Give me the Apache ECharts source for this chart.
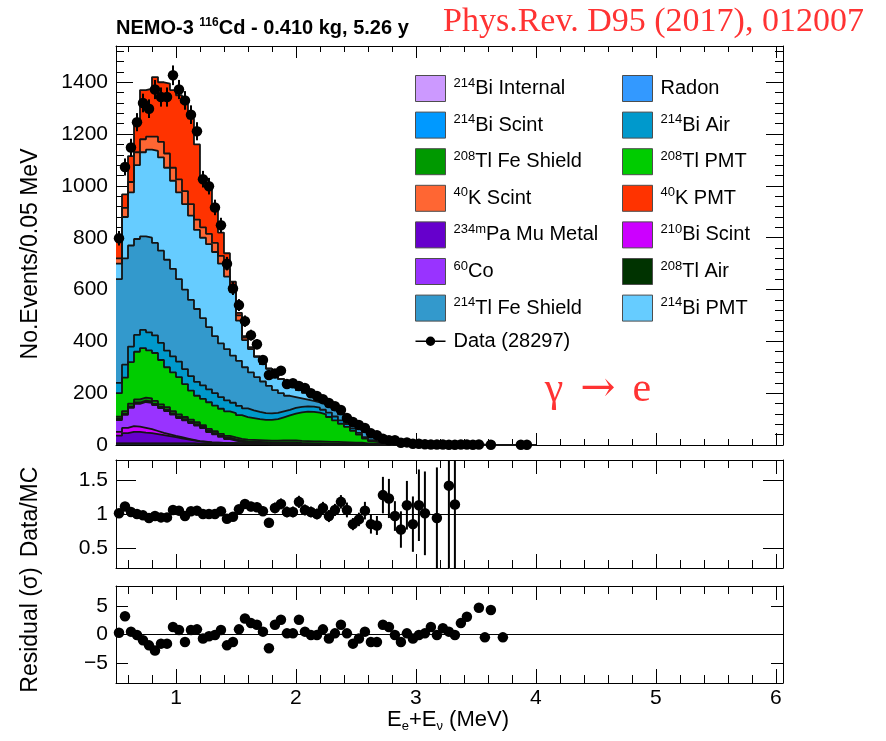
<!DOCTYPE html>
<html><head><meta charset="utf-8">
<script src="https://cdn.jsdelivr.net/npm/echarts@6/dist/echarts.min.js"></script>
<style>html,body{margin:0;padding:0;background:#fff}#c{width:886px;height:741px}</style>
</head><body><div id="c"></div>
<script>
// ---------------- DATA ----------------
// lower bin edges (MeV), bin width 0.05
const binLow = [0.50,0.55,0.60,0.65,0.70,0.75,0.80,0.85,0.90,0.95,
 1.00,1.05,1.10,1.15,1.20,1.25,1.30,1.35,1.40,1.45,
 1.50,1.55,1.60,1.65,1.70,1.75,1.80,1.85,1.90,1.95,
 2.00,2.05,2.10,2.15,2.20,2.25,2.30,2.35,2.40,2.45,
 2.50,2.55,2.60,2.65,2.70,2.75,2.80,2.85,2.90,2.95,
 3.00,3.05,3.10,3.15,3.20,3.25,3.30,3.35,3.40,3.45,
 3.50,3.55,3.60,3.65,3.70,3.75,3.80,3.85,3.90,3.95];
const lastEdge = 4.00;

const dataCounts = [798,1073,1148,1246,1320,1298,1372,1343,1343,1427,
 1372,1330,1275,1211,1026,999,917,848,700,604,
 540,478,424,389,328,270,276,287,235,238,
 228,220,200,189,177,162,150,135,104,89,
 77,66,45,38,24,18,18,9,10,5,
 5,3,2,2,2,1,1,2,2,1,
 2,0,1,0,0,0,0,1,1,0];
const dataErr = [28,33,34,35,36,36,37,37,37,38,
 37,36,36,35,32,32,30,29,26,25,
 23,22,21,20,18,16,17,17,15,15,
 15,15,14,14,13,13,12,12,10,9,
 9,8,7,6,5,4,4,3,3,2,
 2,2,1,1,1,1,1,1,1,1,
 1,0,1,0,0,0,0,1,1,0];

// MC components (events / bin), bins beyond the list are empty
const radon      = [4,4,4,4,4,4,4,4,4,4, 4,4,4,3,3,3,3,3,3,3, 3,3,3,3,3,2,2,2,2,2, 2,2,2,2,1,1,1,1,1,1, 1,1,1,1,1,1];
const bi214Int   = [1,1,1,1,1,1,1,1,1,1, 1,1,1,1,1,1,1,1,1,1, 1,1,1,1,1,1,1,1,1,1, 1,1,1,1,1,1,1,1,1,1, 1];
const bi214Scint = [1,1,1,1,1,1,1,1,1,1, 1,1,1,1,1,1,1,1,1,1, 1,1,1,1,1,1,1,1,1,1, 1];
const pa234      = [30,40,45,45,42,40,36,32,28,24, 20,16,12,9,7,5,4,3,2,2, 1,1,1,1,1,1,1,1,1,1];
const bi210      = [15,20,22,20,18,15,12,9,7,5, 4,3,2,1,1];
const co60       = [45,50,70,88,100,102,100,95,90,82, 74,70,65,60,52,40,32,23,16,10, 6,3,2,1];
const tl208Air   = [5,5,5,5,5,5,5,5,5,5, 5,5,5,5,5,5,5,5,5,5, 5,5,5,5,5,5,5,5,5,5, 4,4,3,3,3,2,2,2,1,1, 1];
const tl208Fe    = [8,10,12,12,12,12,11,10,10,9, 9,8,8,8,7,7,7,7,7,7, 7,7,7,7,7,7,7,8,8,8, 8,8,8,8,8,8,8,7,7,6, 6,5,5,4,4,3,3,2,2,2, 1,1,1,1,1];
const tl208PMT   = [91,129,160,184,191,185,185,171,154,149, 144,127,112,102,101,103,99,97,95,94, 91,87,84,81,79,80,83,89,96,103, 110,114,114,111,105,96,83,71,60,46, 31,19,9,5,3,2,1,1];
const bi214Air   = [40,50,60,65,70,70,68,66,64,62, 60,58,56,54,52,50,48,45,42,40, 36,33,30,28,26,25,24,23,22,22, 21,20,20,19,18,17,15,13,11,9, 7,5,4,3,3,2,2,1,1,1];
const tl214Fe    = [400,410,390,370,361,365,357,356,351,338, 318,307,294,281,260,240,220,207,198,182, 174,159,146,134,122,106,88,70,54,42, 33,26,22,21,22,23,25,23,19,18, 17,20,21,19,13,10,8,6,5,4, 3,2,1,1];
const bi214PMT   = [60,160,205,285,325,340,355,360,355,340, 335,330,325,305,310,320,325,308,280,245, 155,105,90,78,67,67,58,55,47,40, 32,27,23,20,17,17,15,12,12,13, 14,12,12,10,8,8,8,8,6,6, 6,5,4,4,3,3,2,2,2,1, 1];
const k40Scint   = [20,35,40,50,50,50,55,60,55,50, 50,50,45,40,40,40,35,30,30,25, 20,10,5,2];
const k40PMT     = [70,52,100,116,190,185,230,230,270,300, 325,360,330,290,190,175,130,90,60,15, 10,5,3];

// Data / MC ratio and its error
const ratio = [1.01,1.11,1.03,1.00,0.98,0.94,0.97,0.95,0.95,1.06,
 1.05,0.97,1.04,1.05,1.00,1.00,1.00,1.04,0.93,0.96,
 1.07,1.15,1.11,1.10,1.04,0.87,1.09,1.15,1.03,1.03,
 1.18,1.06,1.03,1.00,1.09,0.97,1.06,1.18,1.06,0.85,
 0.92,1.05,0.85,0.83,1.28,1.23,0.97,0.77,1.13,0.85,
 1.13,1.01,null,0.94,null,1.42,1.14];
const ratioErr = [0.05,0.05,0.05,0.04,0.04,0.04,0.04,0.04,0.04,0.04,
 0.04,0.04,0.04,0.04,0.05,0.05,0.05,0.05,0.05,0.05,
 0.06,0.07,0.07,0.07,0.07,0.07,0.08,0.08,0.08,0.08,
 0.09,0.08,0.08,0.08,0.09,0.09,0.09,0.10,0.11,0.09,
 0.10,0.13,0.14,0.14,0.27,0.29,0.22,0.27,0.36,0.41,
 0.53,0.62,null,0.75,null,1.6,1.6];
// residuals in sigma
const resid = [0.3,3.2,0.5,-0.1,-1.0,-1.9,-2.8,-1.6,-1.6,1.3,
 0.8,-1.3,0.8,0.9,-0.7,-0.3,-0.1,0.8,-1.9,-1.3,
 0.9,2.8,2.0,1.7,0.5,-2.4,1.7,2.6,0.2,0.2,
 2.6,0.5,-0.1,-0.1,0.9,-0.7,0.2,1.7,0.2,-1.6,
 -0.7,0.5,-1.3,-1.3,1.7,1.3,-0.1,-1.3,0.2,-0.7,
 -0.1,0.2,1.3,-0.1,1.1,0.5,-0.1,2.0,3.1,null,
 4.7,-0.5,4.3,null,-0.5];

// tick labels
const xMajor = [1,2,3,4,5,6];
const yMainMajor = [0,200,400,600,800,1000,1200,1400];
const yRatioMajor = [0.5,1,1.5];
const yResMajor = [-5,0,5];

// ---------------- BUILD ----------------
const FF = '"Liberation Sans", Arial, Helvetica, sans-serif';
const xMinor = [];
for (let v = 6; v <= 60; v += 2) if (v % 10 !== 0) xMinor.push(v / 10);
const yMainMinor = [];
for (let v = 40; v <= 1520; v += 40) if (v % 200 !== 0) yMainMinor.push(v);

const layers = [
  ['Radon', radon, '#3399ff'],
  ['214Bi Internal', bi214Int, '#cc99ff'],
  ['214Bi Scint', bi214Scint, '#0099ff'],
  ['234mPa Mu Metal', pa234, '#6600cc'],
  ['210Bi Scint', bi210, '#cc00ff'],
  ['60Co', co60, '#9933ff'],
  ['208Tl Air', tl208Air, '#003300'],
  ['208Tl Fe Shield', tl208Fe, '#009900'],
  ['208Tl PMT', tl208PMT, '#00cc00'],
  ['214Bi Air', bi214Air, '#0099cc'],
  ['214Tl Fe Shield', tl214Fe, '#3399cc'],
  ['214Bi PMT', bi214PMT, '#66ccff'],
  ['40K Scint', k40Scint, '#ff6633'],
  ['40K PMT', k40PMT, '#ff3300']
];
const fillOf = {};
layers.forEach(l => fillOf[l[0]] = l[2]);

const running = binLow.map(() => 0);
const cumul = [];
layers.forEach(l => {
  binLow.forEach((x, i) => { running[i] += (l[1][i] || 0); });
  cumul.push(running.slice());
});

const series = [];
for (let k = layers.length - 1; k >= 0; k--) {
  const c = cumul[k];
  const pts = binLow.map((x, i) => [x, c[i]]);
  pts.push([lastEdge, c[c.length - 1]]);
  series.push({
    type: 'line', name: layers[k][0], xAxisIndex: 0, yAxisIndex: 0,
    step: 'end', symbol: 'none', silent: true, data: pts,
    lineStyle: { color: '#141414', width: 1.8 },
    itemStyle: { color: layers[k][2] },
    areaStyle: { color: layers[k][2], opacity: 1 },
    z: 2
  });
}

function errRender(params, api) {
  const x = api.value(0), y = api.value(1), e = api.value(2);
  const p1 = api.coord([x, y - e]);
  const p2 = api.coord([x, y + e]);
  const cs = params.coordSys;
  const top = cs.y, bot = cs.y + cs.height;
  const c = v => Math.min(Math.max(v, top), bot);
  return { type: 'line', shape: { x1: p1[0], y1: c(p1[1]), x2: p2[0], y2: c(p2[1]) },
           style: { stroke: '#000', lineWidth: 2 } };
}

const mainPts = [], mainErr = [], ratioPts = [], ratioErrPts = [], resPts = [];
binLow.forEach((x, i) => {
  const xc = x + 0.025;
  if (dataCounts[i] > 0) { mainPts.push([xc, dataCounts[i]]); mainErr.push([xc, dataCounts[i], dataErr[i]]); }
  if (ratio[i] != null) { ratioPts.push([xc, ratio[i]]); ratioErrPts.push([xc, ratio[i], ratioErr[i]]); }
  if (resid[i] != null) resPts.push([xc, resid[i]]);
});

const dot = { color: '#000', opacity: 1 };
series.push({ type: 'custom', name: 'errMain', xAxisIndex: 0, yAxisIndex: 0, data: mainErr, renderItem: errRender, z: 4, silent: true });
series.push({ type: 'scatter', name: 'Data (28297)', xAxisIndex: 0, yAxisIndex: 0, data: mainPts, symbolSize: 10.5, itemStyle: dot, z: 5, silent: true });

series.push({ type: 'custom', name: 'errRatio', xAxisIndex: 4, yAxisIndex: 4, data: ratioErrPts, renderItem: errRender, z: 4, silent: true });
series.push({ type: 'scatter', name: 'ratio', xAxisIndex: 4, yAxisIndex: 4, data: ratioPts, symbolSize: 10.5, itemStyle: dot, z: 5, silent: true,
  markLine: { silent: true, symbol: 'none', label: { show: false }, lineStyle: { color: '#000', width: 1, type: 'solid', opacity: 1 }, data: [{ yAxis: 1 }] } });
series.push({ type: 'scatter', name: 'resid', xAxisIndex: 8, yAxisIndex: 8, data: resPts, symbolSize: 10.5, itemStyle: dot, z: 5, silent: true,
  markLine: { silent: true, symbol: 'none', label: { show: false }, lineStyle: { color: '#000', width: 1, type: 'solid', opacity: 1 }, data: [{ yAxis: 0 }] } });

// axes
const lbl = { color: '#000', fontSize: 21, fontFamily: FF };
function mkX(g, pos, ticks, len, line, labels) {
  return { type: 'value', gridIndex: g, position: pos, min: 0.5, max: 6.06,
    axisLine: { show: line, onZero: false, lineStyle: { color: '#000', width: 1 } },
    axisTick: { show: true, inside: true, length: len, customValues: ticks, lineStyle: { color: '#000', width: 1 } },
    axisLabel: Object.assign({ show: !!labels, customValues: ticks, margin: 5 }, lbl),
    splitLine: { show: false } };
}
function mkY(g, pos, min, max, ticks, len, line, labels, fmt) {
  return { type: 'value', gridIndex: g, position: pos, min: min, max: max,
    axisLine: { show: line, onZero: false, lineStyle: { color: '#000', width: 1 } },
    axisTick: { show: ticks.length > 0, inside: true, length: len, customValues: ticks, lineStyle: { color: '#000', width: 1 } },
    axisLabel: Object.assign({ show: !!labels, customValues: ticks, margin: 8, formatter: fmt }, lbl),
    splitLine: { show: false } };
}
const xAxes = [], yAxes = [];
const gcfg = [
  { ymin: 0, ymax: 1540, ymaj: yMainMajor, ymin2: yMainMinor, yl: 17, yml: 8, xl: 12, xml: 6, xlab: false, fmt: v => String(v) },
  { ymin: 0.2, ymax: 1.8, ymaj: yRatioMajor, ymin2: [], yl: 20, yml: 8, xl: 14, xml: 8, xlab: false, fmt: v => String(v) },
  { ymin: -8.5, ymax: 8.5, ymaj: yResMajor, ymin2: [], yl: 12, yml: 6, xl: 14, xml: 8, xlab: true, fmt: v => (v < 0 ? '\u2212' + Math.abs(v) : String(v)) }
];
gcfg.forEach((c, g) => {
  xAxes.push(mkX(g, 'bottom', xMajor, c.xl, true, c.xlab));
  xAxes.push(mkX(g, 'bottom', xMinor, c.xml, false, false));
  xAxes.push(mkX(g, 'top', xMajor, c.xl, true, false));
  xAxes.push(mkX(g, 'top', xMinor, c.xml, false, false));
  yAxes.push(mkY(g, 'left', c.ymin, c.ymax, c.ymaj, c.yl, true, true, c.fmt));
  yAxes.push(mkY(g, 'left', c.ymin, c.ymax, c.ymin2, c.yml, false, false));
  yAxes.push(mkY(g, 'right', c.ymin, c.ymax, c.ymaj, c.yl, true, false));
  yAxes.push(mkY(g, 'right', c.ymin, c.ymax, c.ymin2, c.yml, false, false));
});

// legend
const col1 = ['214Bi Internal', '214Bi Scint', '208Tl Fe Shield', '40K Scint', '234mPa Mu Metal', '60Co', '214Tl Fe Shield', 'Data (28297)'];
const col2 = ['Radon', '214Bi Air', '208Tl PMT', '40K PMT', '210Bi Scint', '208Tl Air', '214Bi PMT'];
const dataIcon = 'path://M0,12.2L30,12.2L30,13.8L0,13.8Z M10.3,13A4.7,4.7 0 1 1 19.7,13A4.7,4.7 0 1 1 10.3,13Z';
function legItem(n) {
  if (n.startsWith('Data')) return { name: n, icon: dataIcon, itemStyle: { color: '#000', borderWidth: 0, opacity: 1 } };
  return { name: n, icon: 'rect', itemStyle: { color: fillOf[n], borderColor: '#4d4d4d', borderWidth: 1 } };
}
function legFmt(n) {
  const m = n.match(/^(\d+m?)(.*)$/);
  return m ? '{s|' + m[1] + '}{t|' + m[2] + '}' : '{t|' + n + '}';
}
const legText = { color: '#000', fontFamily: FF, fontSize: 20, padding: [0, 0, 0, 3],
  rich: { t: { fontSize: 20, fontFamily: FF, color: '#000', lineHeight: 24 },
          s: { fontSize: 13, fontFamily: FF, color: '#000', lineHeight: 14, verticalAlign: 'top' } } };
const legends = [
  { left: 415, top: 75, orient: 'vertical', itemWidth: 30, itemHeight: 26, itemGap: 9.6, padding: 0, selectedMode: false,
    data: col1.map(legItem), formatter: legFmt, textStyle: legText },
  { left: 622, top: 75, orient: 'vertical', itemWidth: 30, itemHeight: 26, itemGap: 9.6, padding: 0, selectedMode: false,
    data: col2.map(legItem), formatter: legFmt, textStyle: legText }
];

const graphic = [
  { type: 'text', left: 116, top: 17, style: { text: '{b|NEMO-3 }{s|116}{b|Cd - 0.410 kg, 5.26 y}',
    rich: { b: { fontSize: 20, fontWeight: 'bold', fontFamily: FF, fill: '#000', lineHeight: 22 },
            s: { fontSize: 12, fontWeight: 'bold', fontFamily: FF, fill: '#000', lineHeight: 12, verticalAlign: 'top' } } } },
  { type: 'text', left: 443, top: 5, style: { text: 'Phys.Rev. D95 (2017), 012007', fontSize: 34, fontFamily: '"Liberation Serif", "DejaVu Serif", serif', fill: '#ff3333' } },
  { type: 'text', x: 598, y: 390, style: { text: '{a|\u03b3}{b|\u2192}{a|e}', align: 'center', verticalAlign: 'middle',
    rich: { a: { fontSize: 42, fontFamily: '"Liberation Serif", serif', fill: '#ff3333' },
            b: { fontSize: 42, fontFamily: '"DejaVu Serif", serif', fill: '#ff3333', padding: [0, 17] } } } },
  { type: 'text', x: 31, y: 254, rotation: Math.PI / 2, style: { text: 'No.Events/0.05 MeV', align: 'center', verticalAlign: 'middle', fontSize: 23, fontFamily: FF, fill: '#000' } },
  { type: 'text', x: 31, y: 512, rotation: Math.PI / 2, style: { text: 'Data/MC', align: 'center', verticalAlign: 'middle', fontSize: 23, fontFamily: FF, fill: '#000' } },
  { type: 'text', x: 31, y: 630, rotation: Math.PI / 2, style: { text: 'Residual (\u03c3)', align: 'center', verticalAlign: 'middle', fontSize: 23, fontFamily: FF, fill: '#000' } },
  { type: 'text', x: 448, y: 720, style: { text: '{n|E}{b|e}{n|+E}{b|\u03bd}{n| (MeV)}', align: 'center', verticalAlign: 'middle',
    rich: { n: { fontSize: 22, fontFamily: FF, fill: '#000', lineHeight: 26 },
            b: { fontSize: 13, fontFamily: FF, fill: '#000', lineHeight: 13, verticalAlign: 'bottom' } } } }
];

const chart = echarts.init(document.getElementById('c'), null, { renderer: 'canvas' });
chart.setOption({
  animation: false,
  backgroundColor: '#fff',
  grid: [
    { left: 116, top: 46, width: 667, height: 399, containLabel: false, outerBoundsMode: 'none' },
    { left: 116, top: 460, width: 667, height: 108, containLabel: false, outerBoundsMode: 'none' },
    { left: 116, top: 586, width: 667, height: 97, containLabel: false, outerBoundsMode: 'none' }
  ],
  xAxis: xAxes, yAxis: yAxes,
  legend: legends,
  graphic: graphic,
  series: series
});
</script>
</body></html>
